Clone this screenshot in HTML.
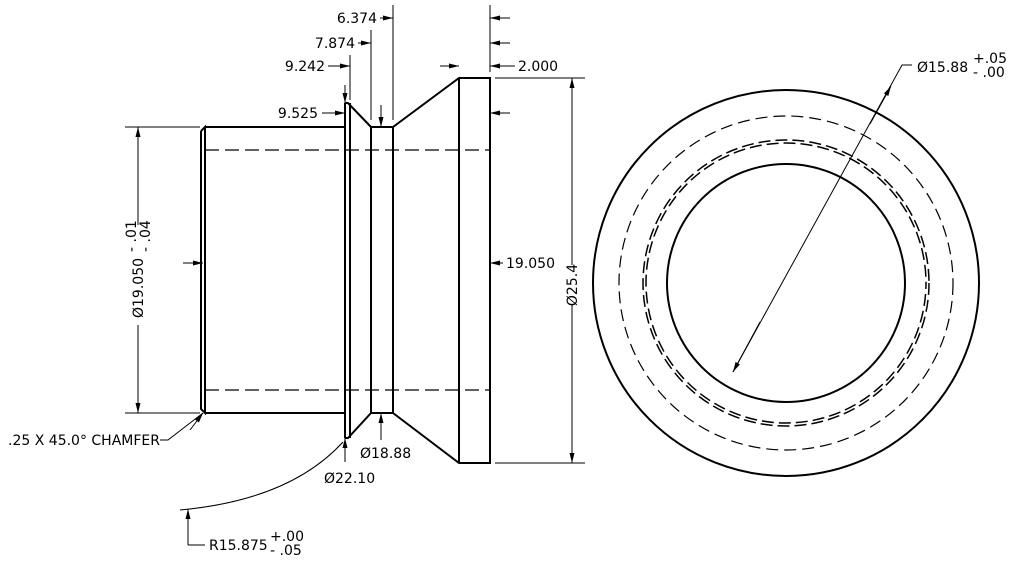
<!DOCTYPE html>
<html><head><meta charset="utf-8"><style>body{margin:0;background:#fff}svg{display:block}text{font-family:"DejaVu Sans","Liberation Sans",sans-serif;font-size:14px;fill:#000}</style></head><body>
<svg width="1009" height="562" viewBox="0 0 1009 562" xmlns="http://www.w3.org/2000/svg">
<defs><marker id="a" viewBox="0 0 12 6" refX="12" refY="3" markerWidth="12" markerHeight="5" orient="auto" markerUnits="userSpaceOnUse"><path d="M0,0L12,3L0,6z" fill="#000"/></marker></defs>
<g stroke="#000" fill="none" stroke-width="2">
<path d="M205,127H345M201,131L205,127V413L201,409V131M205,413H345"/>
<path d="M345,103V438M350,103V438M345,103H348L371,127M345,438H348L371,413"/>
<path d="M371,127V413M393,127V413M371,127H393M371,413H393"/>
<path d="M393,127L459,78H490V463H459L393,413M459,78V463"/>
</g>
<g stroke="#000" stroke-width="1.3" fill="none" stroke-dasharray="14,6">
<path d="M205,150H490M205,390H490"/>
</g>
<g stroke="#000" stroke-width="1" fill="none">
<path d="M393,5V120M371,30V120M350,55V100M490,5V72"/>
<path d="M125,127H200M125,413H200M495,78H585M495,463H585"/>
<path d="M138,127V225M138,325V413"/>
<path d="M572,78V265M572,305V463"/>
<path d="M160,440H168L203,413"/>
<path d="M345,462V441"/>
<path d="M188,545H205M188,545V510"/>
<path d="M180,510Q290,500 343,442"/>
<path d="M912,65H902L733,372"/>
</g>
<g stroke="#000" stroke-width="1" marker-end="url(#a)">
<line x1="380" y1="18" x2="393" y2="18"/><line x1="358" y1="43" x2="371" y2="43"/><line x1="328" y1="66" x2="350" y2="66"/><line x1="322" y1="113" x2="345" y2="113"/>
<line x1="345" y1="85" x2="345" y2="103"/><line x1="381" y1="105" x2="381" y2="127"/>
<line x1="510" y1="18" x2="490" y2="18"/><line x1="510" y1="43" x2="490" y2="43"/><line x1="515" y1="66" x2="490" y2="66"/><line x1="510" y1="113" x2="490" y2="113"/>
<line x1="440" y1="66" x2="459" y2="66"/><line x1="503" y1="263" x2="490" y2="263"/><line x1="183" y1="263" x2="203" y2="263"/>
<line x1="138" y1="150" x2="138" y2="127"/><line x1="138" y1="390" x2="138" y2="413"/>
<line x1="572" y1="110" x2="572" y2="78"/><line x1="572" y1="430" x2="572" y2="463"/>
<line x1="381" y1="440" x2="381" y2="413"/><line x1="345" y1="455" x2="345" y2="438"/><line x1="188" y1="525" x2="188" y2="509"/>
<line x1="190" y1="430" x2="203" y2="413"/>
<line x1="760" y1="322" x2="733" y2="372"/><line x1="870" y1="124" x2="891" y2="86"/>
</g>
<g fill="none" stroke="#000">
<circle cx="786" cy="283" r="193" stroke-width="2"/>
<circle cx="786" cy="283" r="167" stroke-width="1.2" stroke-dasharray="12,6"/>
<circle cx="786" cy="283" r="143" stroke-width="1.5" stroke-dasharray="12,5"/>
<circle cx="786" cy="283" r="140" stroke-width="1.5" stroke-dasharray="12,5" stroke-dashoffset="6"/>
<circle cx="786" cy="283" r="119" stroke-width="2"/>
</g>
<g text-anchor="end">
<text x="377" y="23">6.374</text><text x="355" y="48">7.874</text><text x="325" y="71">9.242</text><text x="318" y="118">9.525</text>
<text x="160" y="445">.25 X 45.0° CHAMFER</text>
</g>
<text x="518" y="71">2.000</text><text x="506" y="268">19.050</text>
<text x="360" y="458">Ø18.88</text><text x="324" y="483">Ø22.10</text>
<text x="209" y="550">R15.875</text><text x="270" y="541" font-size="13">+.00</text><text x="270" y="555" font-size="13">- .05</text>
<text x="917" y="72">Ø15.88</text><text x="973" y="63" font-size="13">+.05</text><text x="973" y="77" font-size="13">- .00</text>
<text transform="translate(577,285) rotate(-90)" text-anchor="middle">Ø25.4</text>
<text transform="translate(143,318) rotate(-90)">Ø19.050</text>
<text transform="translate(136,252) rotate(-90)" font-size="13">- .01</text>
<text transform="translate(150,252) rotate(-90)" font-size="13">- .04</text>
</svg>
</body></html>
